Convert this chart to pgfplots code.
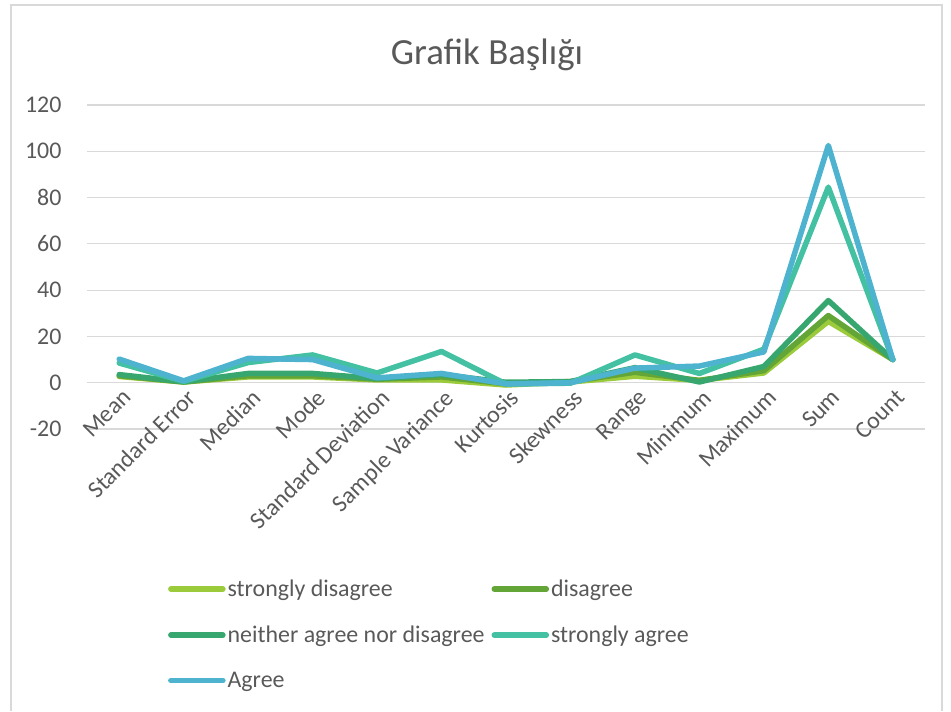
\documentclass[border=0pt]{standalone}
\usepackage{pgfplots}
\pgfplotsset{compat=1.18}
\usepackage{fontspec}
\setmainfont{Carlito}
\definecolor{c1}{HTML}{9BCB3B}
\definecolor{c2}{HTML}{63A537}
\definecolor{c3}{HTML}{37A76F}
\definecolor{c4}{HTML}{44C1A3}
\definecolor{c5}{HTML}{4EB3CF}
\definecolor{txt}{HTML}{595959}
\definecolor{gridc}{HTML}{D9D9D9}
\begin{document}
\begin{tikzpicture}[x=1bp,y=1bp]
\path (0,0) rectangle (951,711);
\draw[gridc, line width=1.2bp] (11,0) -- (11,706) -- (942,706) -- (942,0);
\node[txt, font=\fontsize{37}{44}\selectfont] at (487,656) {Grafik Başlığı};
\begin{axis}[at={(87bp,282bp)}, anchor=south west, scale only axis,
  width=838bp, height=324bp,
  xmin=-0.5, xmax=12.5, ymin=-20, ymax=120,
  ytick={-20,0,20,40,60,80,100,120},
  /pgf/number format/assume math mode=true,
  xtick={0,...,12},
  xticklabels={Mean,Standard Error,Median,Mode,Standard Deviation,Sample Variance,Kurtosis,Skewness,Range,Minimum,Maximum,Sum,Count},
  axis line style={draw=none}, major tick length=0pt,
  ymajorgrids, grid style={gridc, line width=1.2bp},
  tick label style={text=txt, font=\fontsize{24}{29}\selectfont},
  xticklabel style={rotate=45, anchor=north east, xshift=3bp},
  xticklabel shift=-44bp,
  yticklabel style={xshift=-22bp},
  legend columns=2,
  legend cell align=left,
  legend image code/.code={\draw[#1, line cap=round] (0bp,0bp) -- (52bp,0bp);},
  legend style={at={(0.093,-0.453)}, anchor=north west, draw=none, fill=none,
    font=\fontsize{24}{29}\selectfont, text=txt, row sep=24bp,
    nodes={inner sep=2bp},
    /tikz/every even column/.append style={column sep=5bp}},
  every axis plot/.append style={line width=5.5bp, line join=round, line cap=round},
]
\addplot[c1] coordinates {(0,2.7) (1,0.3) (2,2.5) (3,2.5) (4,1.2) (5,1.2) (6,-1.0) (7,0.3) (8,2.8) (9,1.0) (10,4.2) (11,26.5) (12,10)};
\addlegendentry{strongly disagree}
\addplot[c2] coordinates {(0,3.0) (1,0.3) (2,3.0) (3,3.0) (4,1.5) (5,2.5) (6,-0.5) (7,0.5) (8,4.5) (9,1.0) (10,5.2) (11,29) (12,10)};
\addlegendentry{disagree}
\addplot[c3] coordinates {(0,3.5) (1,0.4) (2,4.0) (3,4.0) (4,1.8) (5,3.5) (6,0.2) (7,0.5) (8,6.5) (9,0.3) (10,7.0) (11,35.5) (12,10)};
\addlegendentry{neither agree nor disagree}
\addplot[c4] coordinates {(0,8.5) (1,0.6) (2,8.7) (3,12) (4,4.2) (5,13.5) (6,-0.6) (7,-0.2) (8,12) (9,4.0) (10,14.5) (11,84.5) (12,10)};
\addlegendentry{strongly agree}
\addplot[c5] coordinates {(0,10.2) (1,0.8) (2,10.5) (3,10) (4,2.1) (5,4.0) (6,-0.5) (7,0.0) (8,6.3) (9,7.2) (10,13.3) (11,102.5) (12,10)};
\addlegendentry{Agree}
\end{axis}
\end{tikzpicture}
\end{document}
